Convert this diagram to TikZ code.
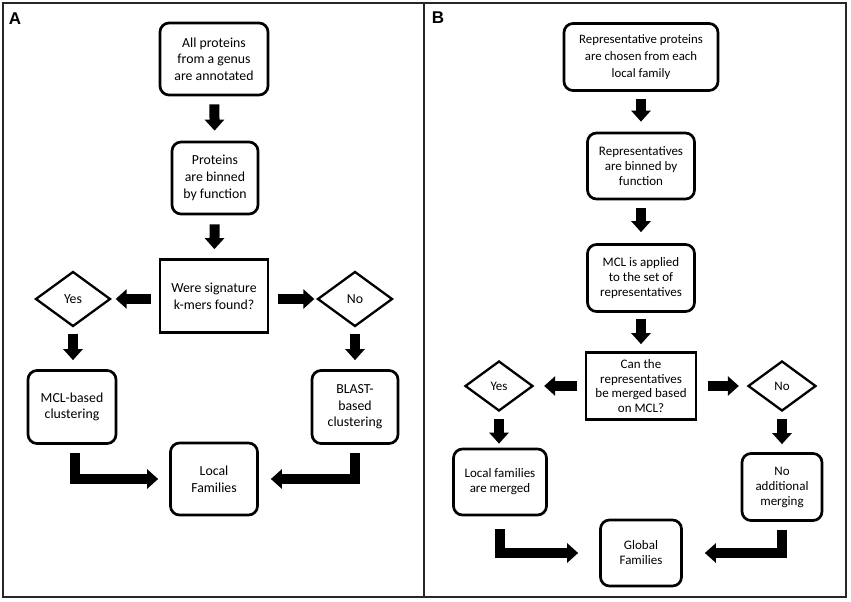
\documentclass[tikz,border=0pt]{standalone}
\usepackage{fontspec}
\setmainfont{Carlito}
\newfontfamily\labelfont{Liberation Sans}
\usetikzlibrary{shapes.geometric,arrows.meta}
\tikzset{
  box/.style={draw, line width=2.7pt, rounded corners=9pt, align=center, inner sep=0pt},
  rbox/.style={draw, line width=2.7pt, align=center, inner sep=0pt},
  dia/.style={draw, diamond, line width=2.3pt, inner sep=0pt, align=center},
  fa/.style={font=\fontsize{13.8}{16.7}\selectfont},
  fb/.style={font=\fontsize{13}{15}\selectfont},
  fbs/.style={font=\fontsize{12.8}{16.7}\selectfont},
  fbq/.style={font=\fontsize{13}{14.8}\selectfont},
  bigarrow/.style={line width=10pt, -{Triangle[length=11pt,width=19pt]}},
  frame/.style={draw=black!85, line width=1.6pt},
  panellabel/.style={font=\labelfont\bfseries\fontsize{17}{17}\selectfont, inner sep=0pt},
}
\begin{document}
\begin{tikzpicture}[x=1pt,y=-1pt]
\useasboundingbox (0,0) rectangle (851,602);
\draw[frame] (3,3) rectangle (424,597);
\draw[frame] (424,3) rectangle (846,597);
\node[panellabel] (la) at (15,19) {A};
\node[panellabel] (lb) at (438,18) {B};

% Panel A
\node[box,fa,minimum width=108pt,minimum height=72pt] (a1) at (214,59) {All proteins\\from a genus\\are annotated};
\node[box,fa,minimum width=86pt,minimum height=72pt] (a2) at (215,178) {Proteins\\are binned\\by function};
\node[rbox,fa,minimum width=108pt,minimum height=73pt] (a3) at (214,296) {Were signature\\k-mers found?};
\node[dia,fa,minimum width=75pt,minimum height=55pt] (ay) at (73,299) {Yes};
\node[dia,fa,minimum width=75pt,minimum height=55pt] (an) at (355,299) {No};
\node[box,fa,minimum width=88pt,minimum height=73pt] (am) at (72,407) {MCL-based\\clustering};
\node[box,fa,minimum width=86pt,minimum height=73pt] (ab) at (355,407) {BLAST-\\based\\clustering};
\node[box,fa,minimum width=87pt,minimum height=72pt] (al) at (214,479) {Local\\Families};

\draw[bigarrow,shorten <=8pt,shorten >=10pt] (a1) -- (a2);
\draw[bigarrow,shorten <=9pt,shorten >=9pt] (a2) -- (a3);
\draw[bigarrow,shorten <=8pt,shorten >=4pt] (a3.west |- ay) -- (ay.east);
\draw[bigarrow,shorten <=9pt,shorten >=2pt] (a3.east |- an) -- (an.west);
\draw[bigarrow,shorten <=6pt,shorten >=9pt] (ay.south) -- (ay.south |- am.north);
\draw[bigarrow,shorten <=6pt,shorten >=9pt] (an.south) -- (an.south |- ab.north);
\coordinate (amc) at ([xshift=3pt,yshift=-8pt]am.south);
\coordinate (abc) at ([yshift=-8pt]ab.south);
\draw[bigarrow,shorten >=11pt] (amc) |- (al.west);
\draw[bigarrow,shorten >=12pt] (abc) |- (al.east);

% Panel B
\node[box,fbs,minimum width=154pt,minimum height=67pt] (b1) at (641,57) {Representative proteins\\are chosen from each\\local family};
\node[box,fb,minimum width=107pt,minimum height=66pt] (b2) at (641,166) {Representatives\\are binned by\\function};
\node[box,fb,minimum width=107pt,minimum height=67pt] (b3) at (641,278) {MCL is applied\\to the set of\\representatives};
\node[rbox,fbq,minimum width=110pt,minimum height=67pt] (b4) at (641,386) {Can the\\representatives\\be merged based\\on MCL?};
\node[dia,fb,minimum width=68pt,minimum height=50pt] (by) at (499,386) {Yes};
\node[dia,fb,minimum width=68pt,minimum height=50pt] (bn) at (782,386) {No};
\node[box,fb,minimum width=93pt,minimum height=66pt] (bm) at (500,482) {Local families\\are merged};
\node[box,fb,minimum width=80pt,minimum height=67pt] (bx) at (782,487) {No\\additional\\merging};
\node[box,fb,minimum width=81pt,minimum height=66pt] (bg) at (641,553) {Global\\Families};

\draw[bigarrow,shorten <=7pt,shorten >=10pt] (b1) -- (b2);
\draw[bigarrow,shorten <=8pt,shorten >=11pt] (b2) -- (b3);
\draw[bigarrow,shorten <=6pt,shorten >=7pt] (b3) -- (b4);
\draw[bigarrow,shorten <=8pt,shorten >=10pt] (b4.west |- by) -- (by.east);
\draw[bigarrow,shorten <=11pt,shorten >=8pt] (b4.east |- bn) -- (bn.west);
\draw[bigarrow,shorten <=7pt,shorten >=4pt] (by.south) -- (by.south |- bm.north);
\draw[bigarrow,shorten <=7pt,shorten >=8pt] (bn.south) -- (bn.south |- bx.north);
\coordinate (bmc) at ([yshift=-13pt]bm.south);
\coordinate (bxc) at ([yshift=-8pt]bx.south);
\draw[bigarrow,shorten >=21pt] (bmc) |- (bg.west);
\draw[bigarrow,shorten >=22pt] (bxc) |- (bg.east);
\end{tikzpicture}
\end{document}
